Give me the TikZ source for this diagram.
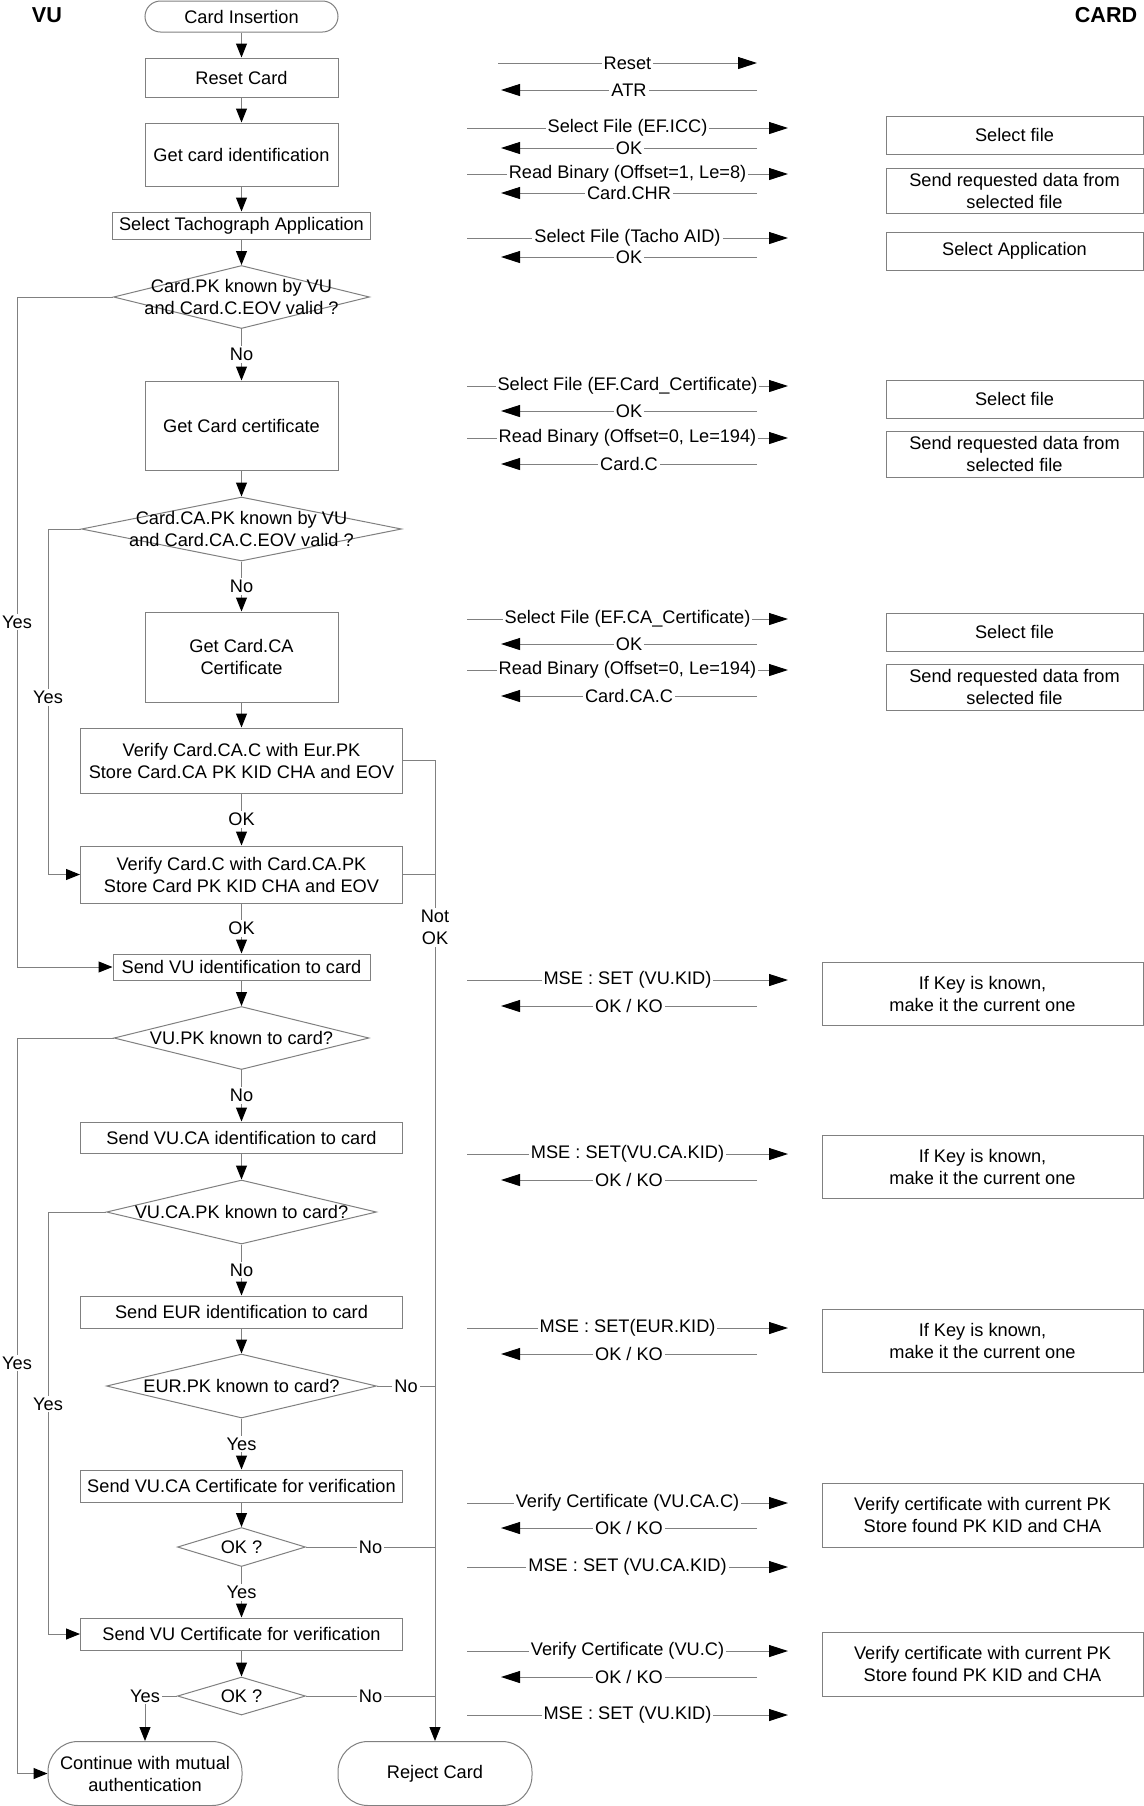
\documentclass[tikz,border=0pt]{standalone}
\usepackage{fontspec}
\setmainfont{Liberation Sans}
\usepackage{tikz}
\usetikzlibrary{shapes.geometric, arrows.meta}

\definecolor{linegray}{RGB}{128,128,128}

\tikzset{
  box/.style={rectangle, draw=linegray, line width=0.5pt, align=center, inner sep=1pt},
  term/.style={box, rounded corners=7.75pt},
  decision/.style={diamond, draw=linegray, line width=0.5pt, inner sep=0pt},
  flow/.style={draw=linegray, line width=0.5pt, -{Triangle[length=7pt, width=5.5pt, color=black]}},
  link/.style={draw=linegray, line width=0.5pt},
  msg/.style={draw=linegray, line width=0.5pt, -{Triangle[length=9.5pt, width=6pt, color=black]}},
  lbl/.style={fill=white, inner sep=1pt},
  title/.style={font=\fontsize{10.8}{13}\selectfont\bfseries},
}

\begin{document}
\begin{tikzpicture}[x=0.5pt, y=-0.5pt, font=\fontsize{9.1}{11}\selectfont]
  \path[use as bounding box, fill=white] (0,0) rectangle (1144,1806);

  \node (vu) [title] at (47,15) {VU};
  \node (card) [title] at (1106,15) {CARD};

  % VU side
  \node (insert) [term, minimum width=96.5pt, minimum height=15.5pt] at (241.5,16.5) {Card Insertion};
  \node (reset) [box, node distance=30.5pt, below of=insert, minimum width=96.5pt, minimum height=19.5pt] {Reset Card};
  \node (getid) [box, node distance=38.5pt, below of=reset, minimum width=96.5pt, minimum height=31.5pt] {Get card identification};
  \node (seltacho) [box, node distance=35.5pt, below of=getid, minimum width=129pt, minimum height=13.5pt] {Select Tachograph Application};
  \node (d1) [decision, node distance=35.75pt, below of=seltacho, minimum width=128pt, minimum height=31.5pt, label={[align=center]center:Card.PK known by VU\\and Card.C.EOV valid ?}] {};
  \node (getcert) [box, node distance=64.25pt, below of=d1, minimum width=96.5pt, minimum height=44.5pt] {Get Card certificate};
  \node (d2) [decision, node distance=51.75pt, below of=getcert, minimum width=160pt, minimum height=32pt, label={[align=center]center:Card.CA.PK known by VU\\and Card.CA.C.EOV valid ?}] {};
  \node (getcacert) [box, node distance=64pt, below of=d2, minimum width=96.5pt, minimum height=45pt] {Get Card.CA\\Certificate};
  \node (vercac) [box, node distance=51.75pt, below of=getcacert, minimum width=161pt, minimum height=32.5pt] {Verify Card.CA.C with Eur.PK\\Store Card.CA PK KID CHA and EOV};
  \node (vercc) [box, node distance=57pt, below of=vercac, minimum width=161pt, minimum height=28.5pt] {Verify Card.C with Card.CA.PK\\Store Card PK KID CHA and EOV};
  \node (sendvu) [box, node distance=46.25pt, below of=vercc, minimum width=128.5pt, minimum height=13pt] {Send VU identification to card};
  \node (dvu) [decision, node distance=35.5pt, below of=sendvu, minimum width=127.5pt, minimum height=31.5pt, label={center:VU.PK known to card?}] {};
  \node (sendvuca) [box, node distance=49.75pt, below of=dvu, minimum width=161pt, minimum height=15.5pt] {Send VU.CA identification to card};
  \node (dvuca) [decision, node distance=37.25pt, below of=sendvuca, minimum width=135pt, minimum height=32pt, label={center:VU.CA.PK known to card?}] {};
  \node (sendeur) [box, node distance=50pt, below of=dvuca, minimum width=161pt, minimum height=16pt] {Send EUR identification to card};
  \node (deur) [decision, node distance=37pt, below of=sendeur, minimum width=135pt, minimum height=32pt, label={center:EUR.PK known to card?}] {};
  \node (sendvucac) [box, node distance=50pt, below of=deur, minimum width=161pt, minimum height=16pt] {Send VU.CA Certificate for verification};
  \node (ok1) [decision, node distance=30.5pt, below of=sendvucac, minimum width=64pt, minimum height=19.5pt, label={center:OK ?}] {};
  \node (sendvuc) [box, node distance=43.5pt, below of=ok1, minimum width=161pt, minimum height=16pt] {Send VU Certificate for verification};
  \node (ok2) [decision, node distance=31pt, below of=sendvuc, minimum width=64pt, minimum height=19pt, label={center:OK ?}] {};
  \node (continue) [box, rounded corners=15pt, minimum width=97pt, minimum height=32pt] at (145,1773.5) {Continue with mutual\\authentication};
  \node (reject) [box, rounded corners=15pt, minimum width=97pt, minimum height=32pt] at (435,1773.5) {Reject Card};

  \draw[flow] (insert) -- (reset);
  \draw[flow] (reset) -- (getid);
  \draw[flow] (getid) -- (seltacho);
  \draw[flow] (seltacho) -- (d1);
  \draw[flow] (d1) -- node[lbl]{No} (getcert);
  \draw[flow] (getcert) -- (d2);
  \draw[flow] (d2) -- node[lbl]{No} (getcacert);
  \draw[flow] (getcacert) -- (vercac);
  \draw[flow] (vercac) -- node[lbl]{OK} (vercc);
  \draw[flow] (vercc) -- node[lbl]{OK} (sendvu);
  \draw[flow] (sendvu) -- (dvu);
  \draw[flow] (dvu) -- node[lbl]{No} (sendvuca);
  \draw[flow] (sendvuca) -- (dvuca);
  \draw[flow] (dvuca) -- node[lbl]{No} (sendeur);
  \draw[flow] (sendeur) -- (deur);
  \draw[flow] (deur) -- node[lbl]{Yes} (sendvucac);
  \draw[flow] (sendvucac) -- (ok1);
  \draw[flow] (ok1) -- node[lbl]{Yes} (sendvuc);
  \draw[flow] (sendvuc) -- (ok2);
  \draw[flow] (ok2.west) -| node[lbl, pos=0.5]{Yes} (continue.north);

  % side rails
  \coordinate (railA) at (17,0);
  \coordinate (railB) at (48,0);
  \coordinate (railC) at (435,0);

  \draw[flow] (d1.west) -- (d1.west -| railA) -- node[lbl, pos=0.485]{Yes} (sendvu.west -| railA) -- (sendvu.west);
  \draw[flow] (d2.west) -- (d2.west -| railB) -- node[lbl, pos=0.487]{Yes} (vercc.west -| railB) -- (vercc.west);
  \draw[flow] (dvu.west) -- (dvu.west -| railA) -- node[lbl, pos=0.442]{Yes} (continue.west -| railA) -- (continue.west);
  \draw[flow] (dvuca.west) -- (dvuca.west -| railB) -- node[lbl, pos=0.455]{Yes} (sendvuc.west -| railB) -- (sendvuc.west);

  \draw[flow] (vercac.east) -- (vercac.east -| railC) -- node[lbl, align=center, pos=0.17]{Not\\OK} (reject.north);
  \draw[link] (vercc.east) -- (vercc.east -| railC);
  \draw[link] (deur.east) -- node[lbl]{No} (deur.east -| railC);
  \draw[link] (ok1.east) -- node[lbl]{No} (ok1.east -| railC);
  \draw[link] (ok2.east) -- node[lbl]{No} (ok2.east -| railC);

  % CARD side
  \node (selfile1) [box, minimum width=128.5pt, minimum height=19pt] at (1014.5,135) {Select file};
  \node (sendreq1) [box, node distance=27.75pt, below of=selfile1, minimum width=128.5pt, minimum height=22.5pt] {Send requested data from\\selected file};
  \node (selapp) [box, minimum width=128.5pt, minimum height=19pt] at (1014.5,251) {Select Application};
  \node (selfile2) [box, minimum width=128.5pt, minimum height=19pt] at (1014.5,399) {Select file};
  \node (sendreq2) [box, node distance=27.5pt, below of=selfile2, minimum width=128.5pt, minimum height=23pt] {Send requested data from\\selected file};
  \node (selfile3) [box, minimum width=128.5pt, minimum height=19pt] at (1014.5,632) {Select file};
  \node (sendreq3) [box, node distance=27.5pt, below of=selfile3, minimum width=128.5pt, minimum height=23pt] {Send requested data from\\selected file};
  \node (key1) [box, minimum width=160.5pt, minimum height=31.5pt] at (982.5,993.5) {If Key is known,\\make it the current one};
  \node (key2) [box, minimum width=160.5pt, minimum height=31.5pt] at (982.5,1167) {If Key is known,\\make it the current one};
  \node (key3) [box, minimum width=160.5pt, minimum height=31.5pt] at (982.5,1341) {If Key is known,\\make it the current one};
  \node (vercert1) [box, minimum width=160.5pt, minimum height=32pt] at (982.5,1515) {Verify certificate with current PK\\Store found PK KID and CHA};
  \node (vercert2) [box, minimum width=160.5pt, minimum height=32pt] at (982.5,1664) {Verify certificate with current PK\\Store found PK KID and CHA};

  % messages
  \coordinate (cardR) at (788,0);
  \coordinate (vuL) at (501,0);

  \coordinate (mreset) at (498,63);
  \coordinate (matr) at (757,90);
  \draw[msg] (mreset) -- node[lbl]{Reset} (mreset -| matr);
  \draw[msg] (matr) -- node[lbl]{ATR} (matr -| vuL);

  \coordinate (mselicc) at (467,128);
  \coordinate (mokicc) at (757,148);
  \coordinate (mreadicc) at (467,174);
  \coordinate (mchr) at (757,193);
  \draw[msg] (mselicc) -- node[lbl]{Select File (EF.ICC)} (mselicc -| cardR);
  \draw[msg] (mokicc) -- node[lbl]{OK} (mokicc -| vuL);
  \draw[msg] (mreadicc) -- node[lbl]{Read Binary (Offset=1, Le=8)} (mreadicc -| cardR);
  \draw[msg] (mchr) -- node[lbl]{Card.CHR} (mchr -| vuL);

  \coordinate (mselaid) at (467,238);
  \coordinate (mokaid) at (757,257);
  \draw[msg] (mselaid) -- node[lbl]{Select File (Tacho AID)} (mselaid -| cardR);
  \draw[msg] (mokaid) -- node[lbl]{OK} (mokaid -| vuL);

  \coordinate (mselcc) at (467,386);
  \coordinate (mokcc) at (757,411);
  \coordinate (mreadcc) at (467,438);
  \coordinate (mcc) at (757,464);
  \draw[msg] (mselcc) -- node[lbl]{Select File (EF.Card\_Certificate)} (mselcc -| cardR);
  \draw[msg] (mokcc) -- node[lbl]{OK} (mokcc -| vuL);
  \draw[msg] (mreadcc) -- node[lbl]{Read Binary (Offset=0, Le=194)} (mreadcc -| cardR);
  \draw[msg] (mcc) -- node[lbl]{Card.C} (mcc -| vuL);

  \coordinate (mselca) at (467,619);
  \coordinate (mokca) at (757,644);
  \coordinate (mreadca) at (467,670);
  \coordinate (mcac) at (757,696);
  \draw[msg] (mselca) -- node[lbl]{Select File (EF.CA\_Certificate)} (mselca -| cardR);
  \draw[msg] (mokca) -- node[lbl]{OK} (mokca -| vuL);
  \draw[msg] (mreadca) -- node[lbl]{Read Binary (Offset=0, Le=194)} (mreadca -| cardR);
  \draw[msg] (mcac) -- node[lbl]{Card.CA.C} (mcac -| vuL);

  \coordinate (msetvu) at (467,980);
  \coordinate (mkovu) at (757,1006);
  \draw[msg] (msetvu) -- node[lbl]{MSE : SET (VU.KID)} (msetvu -| cardR);
  \draw[msg] (mkovu) -- node[lbl]{OK / KO} (mkovu -| vuL);

  \coordinate (msetvuca) at (467,1154);
  \coordinate (mkovuca) at (757,1180);
  \draw[msg] (msetvuca) -- node[lbl]{MSE : SET(VU.CA.KID)} (msetvuca -| cardR);
  \draw[msg] (mkovuca) -- node[lbl]{OK / KO} (mkovuca -| vuL);

  \coordinate (mseteur) at (467,1328);
  \coordinate (mkoeur) at (757,1354);
  \draw[msg] (mseteur) -- node[lbl]{MSE : SET(EUR.KID)} (mseteur -| cardR);
  \draw[msg] (mkoeur) -- node[lbl]{OK / KO} (mkoeur -| vuL);

  \coordinate (mvercac) at (467,1503);
  \coordinate (mkocac) at (757,1528);
  \coordinate (msetcac) at (467,1567);
  \draw[msg] (mvercac) -- node[lbl]{Verify Certificate (VU.CA.C)} (mvercac -| cardR);
  \draw[msg] (mkocac) -- node[lbl]{OK / KO} (mkocac -| vuL);
  \draw[msg] (msetcac) -- node[lbl]{MSE : SET (VU.CA.KID)} (msetcac -| cardR);

  \coordinate (mvervuc) at (467,1651);
  \coordinate (mkovuc) at (757,1677);
  \coordinate (msetvuc) at (467,1715);
  \draw[msg] (mvervuc) -- node[lbl]{Verify Certificate (VU.C)} (mvervuc -| cardR);
  \draw[msg] (mkovuc) -- node[lbl]{OK / KO} (mkovuc -| vuL);
  \draw[msg] (msetvuc) -- node[lbl]{MSE : SET (VU.KID)} (msetvuc -| cardR);
\end{tikzpicture}
\end{document}
